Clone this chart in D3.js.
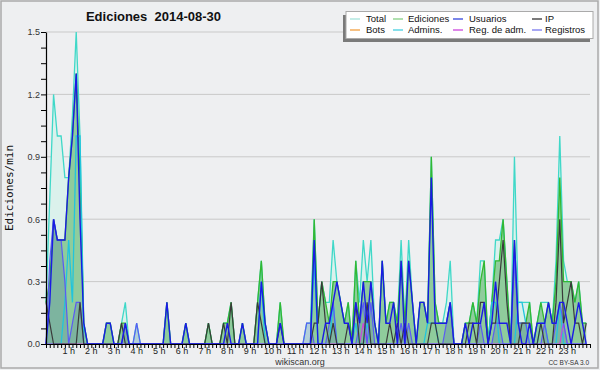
<!DOCTYPE html>
<html><head><meta charset="utf-8">
<script src="https://cdn.jsdelivr.net/npm/d3@7/dist/d3.min.js"></script>
<style>body{margin:0;background:#eeeff1;} svg{display:block;}</style>
</head><body>
<svg id="chart" width="600" height="370"></svg>
<script>
// ---- data: 144 ten-minute slots, edits per minute ----
const hourLabels = ["1 h","2 h","3 h","4 h","5 h","6 h","7 h","8 h","9 h","10 h","11 h","12 h",
  "13 h","14 h","15 h","16 h","17 h","18 h","19 h","20 h","21 h","22 h","23 h"];
const yTickLabels = [0, 0.3, 0.6, 0.9, 1.2, 1.5];

const total = [
 0.2,0.7,1.2,1.0,1.0,0.8,0.8,1.1,1.5,1.0,0.1,0,
 0,0,0,0,0.1,0.1,0,0,0.1,0.2,0,0,
 0.1,0,0,0,0,0,0,0,0.2,0,0,0,
 0,0.1,0,0,0,0,0,0.1,0,0,0,0.1,
 0.1,0.2,0,0,0.1,0,0,0,0.2,0.4,0.1,0,
 0,0,0.2,0,0,0,0,0,0,0.1,0.1,0.6,
 0.1,0.3,0.2,0.2,0.5,0.3,0.2,0.1,0.2,0,0.4,0.2,
 0.5,0.3,0.5,0.1,0,0.4,0.1,0.2,0.2,0.1,0.5,0.1,
 0.5,0.2,0,0.2,0.2,0.1,0.9,0.2,0.1,0.1,0.2,0.4,
 0,0,0,0.1,0.1,0.2,0.1,0.4,0.4,0,0.2,0.5,
 0.5,0.6,0.3,0,0.9,0.2,0.2,0.2,0.2,0,0.1,0.2,
 0.2,0.2,0.1,0.4,1.0,0.4,0.3,0.3,0.2,0.3,0.1,0.1];

const ediciones = [
 0.2,0.3,0.6,0.5,0.5,0.5,0.8,1.0,1.3,0.8,0.1,0,
 0,0,0,0,0.1,0.1,0,0,0.1,0.1,0,0,
 0,0,0,0,0,0,0,0,0.2,0,0,0,
 0,0.1,0,0,0,0,0,0.1,0,0,0,0.1,
 0.1,0.2,0,0,0.1,0,0,0,0.2,0.4,0.1,0,
 0,0,0.2,0,0,0,0,0,0,0,0,0.6,
 0.1,0.3,0.2,0.1,0.3,0.3,0.2,0.1,0.2,0,0.4,0.1,
 0.3,0.3,0.3,0.1,0,0.4,0.1,0.2,0.2,0.1,0.4,0.1,
 0.4,0.2,0,0.2,0.2,0.1,0.9,0.2,0.1,0.1,0.1,0.2,
 0,0,0,0.1,0.1,0.2,0.1,0.3,0.4,0,0.2,0.4,
 0.4,0.6,0.3,0,0.5,0.1,0.1,0.1,0.2,0,0.1,0.2,
 0.1,0.2,0.1,0.3,0.8,0.3,0.3,0.3,0.2,0.3,0.1,0.1];

const usuarios = [
 0,0.2,0.6,0.5,0.5,0.5,0.8,1.0,1.3,0.6,0.1,0,
 0,0,0,0,0.1,0.1,0,0,0,0.1,0,0,
 0,0,0,0,0,0,0,0,0.2,0,0,0,
 0,0.1,0,0,0,0,0,0,0,0,0,0,
 0.1,0,0,0,0.1,0,0,0,0,0.3,0.1,0,
 0,0,0.1,0,0,0,0,0,0,0,0,0.5,
 0,0,0.1,0.1,0.2,0.3,0.2,0.1,0.1,0,0.2,0.1,
 0.3,0.1,0.3,0.1,0,0.4,0.1,0.1,0.2,0,0.4,0,
 0.4,0.2,0,0.2,0.2,0.1,0.8,0.1,0.1,0.1,0.1,0.2,
 0,0,0,0.1,0,0.1,0.1,0.1,0.2,0,0.1,0.3,
 0.1,0.1,0.1,0,0.5,0.1,0,0,0.1,0,0.1,0.1,
 0.1,0.2,0.1,0.1,0.2,0.2,0.1,0,0.1,0.2,0.1,0];

const ip = [
 0.2,0.1,0,0,0,0,0,0,0,0.2,0,0,
 0,0,0,0,0,0,0,0,0.1,0,0,0,
 0,0,0,0,0,0,0,0,0,0,0,0,
 0,0,0,0,0,0,0,0.1,0,0,0,0.1,
 0,0.2,0,0,0,0,0,0,0.2,0.1,0,0,
 0,0,0.1,0,0,0,0,0,0,0,0,0.1,
 0.1,0.3,0.1,0,0.1,0,0,0,0.1,0,0.2,0,
 0,0.2,0,0,0,0,0,0.1,0,0.1,0,0.1,
 0,0,0,0,0,0,0.1,0.1,0,0,0,0,
 0,0,0,0,0.1,0.1,0,0.2,0.2,0,0.1,0.1,
 0.3,0.5,0.2,0,0,0,0.1,0.1,0.1,0,0,0.1,
 0,0,0,0.2,0.6,0.1,0.2,0.3,0.1,0.1,0,0.1];

const registros = [
 0,0.4,0.6,0.5,0.5,0.3,0,0.1,0.2,0.2,0,0,
 0,0,0,0,0,0,0,0,0,0.1,0,0,
 0.1,0,0,0,0,0,0,0,0,0,0,0,
 0,0,0,0,0,0,0,0,0,0,0,0,
 0,0,0,0,0,0,0,0,0,0,0,0,
 0,0,0,0,0,0,0,0,0,0.1,0.1,0,
 0,0,0,0.1,0.2,0,0,0,0,0,0,0.1,
 0.2,0,0.2,0,0,0,0,0,0,0,0.1,0,
 0.1,0,0,0,0,0,0,0,0,0,0.1,0.2,
 0,0,0,0,0,0,0,0.1,0,0,0,0.1,
 0.1,0,0,0,0.4,0.1,0.1,0.1,0,0,0,0,
 0.1,0,0,0.1,0.2,0.1,0,0,0,0,0,0];

const admins = [
 0,0,0,0,0,0.2,0.5,0.2,1.0,1.0,0,0,
 0,0,0,0,0,0,0,0,0,0,0,0,
 0,0,0,0,0,0,0,0,0,0,0,0,
 0,0,0,0,0,0,0,0,0,0,0,0,
 0,0,0,0,0,0,0,0,0,0.3,0,0,
 0,0,0,0,0,0,0,0,0,0,0,0.4,
 0,0,0,0,0.2,0,0,0,0,0,0.1,0,
 0,0.1,0,0,0,0,0,0,0,0,0,0,
 0,0,0,0,0,0.1,0.1,0.1,0,0,0,0,
 0,0,0,0,0,0,0,0,0,0,0.2,0.2,
 0,0,0,0,0,0.2,0.2,0.1,0,0,0,0.1,
 0.1,0,0,0,0.2,0,0,0,0,0,0,0];

const regAdm = [
 0,0,0,0,0,0,0,0,0,0,0,0,
 0,0,0,0,0,0,0,0,0,0,0,0,
 0,0,0,0,0,0,0,0,0,0,0,0,
 0,0,0,0,0,0,0,0,0,0,0,0,
 0,0,0,0,0,0,0,0,0,0,0,0,
 0,0,0,0,0,0,0,0,0,0,0,0,
 0,0,0,0,0,0,0,0,0,0,0,0,
 0.1,0,0,0,0,0,0,0,0,0,0,0,
 0,0,0,0,0,0,0,0,0,0,0,0,
 0,0,0,0,0,0,0,0,0,0,0,0,
 0,0,0,0,0,0,0,0,0,0,0,0,
 0,0,0,0,0,0.1,0,0,0,0,0,0];

const legendNames  = ["Total","Ediciones","Usuarios","IP","Bots","Admins.","Reg. de adm.","Registros"];
const legendColors = ["#a6e3dc","#86cf86","#3344dd","#333333","#f3a040","#44cfe0","#cc44dd","#7777ee"];

// ---- drawing ----
const svg = d3.select("#chart");
svg.append("rect").attr("x",0).attr("y",0).attr("width",600).attr("height",370).attr("fill","#eeeff1");
svg.append("rect").attr("x",1).attr("y",1).attr("width",597).attr("height",367)
   .attr("fill","none").attr("stroke","#aaaaaa").attr("stroke-width",1.5);

const x = d3.scaleLinear().domain([0,144]).range([46,590]);
const y = d3.scaleLinear().domain([0,1.5]).range([344,32]);

// grid
svg.append("g").selectAll("line").data(yTickLabels.slice(1)).join("line")
  .attr("x1",46).attr("x2",590).attr("y1",d=>y(d)).attr("y2",d=>y(d))
  .attr("stroke","#c9c9c9").attr("stroke-width",1);

const area = d3.area().x((d,i)=>x(i)).y0(y(0)).y1(d=>y(d));
const line = d3.line().x((d,i)=>x(i)).y(d=>y(d));

const plot = svg.append("g");
plot.append("path").datum(total).attr("d",area).attr("fill","#dbf1ec");
plot.append("path").datum(ediciones).attr("d",area).attr("fill","rgba(50,160,60,0.45)");
plot.append("path").datum(registros).attr("d",area).attr("fill","rgba(80,120,170,0.28)");

const lines = [
  [total, "#3fd8c8", 1.3],
  [ediciones, "#33b833", 1.3],
  [admins, "#22c4dc", 1.3],
  [regAdm, "#cc44dd", 1.2],
  [registros, "#5a5af5", 1.2],
  [ip, "#3a3a3a", 1.2],
  [usuarios, "#1a1ae6", 1.4]
];
lines.forEach(([data,col,w])=>{
  plot.append("path").datum(data).attr("d",line).attr("fill","none")
    .attr("stroke",col).attr("stroke-width",w).attr("stroke-linejoin","miter");
});

// axes
const fontAx = "'Liberation Sans', Arial, sans-serif";
const xAxis = d3.axisBottom(x).tickValues(d3.range(0,145)).tickSize(4).tickSizeOuter(0).tickFormat("");
const gx = svg.append("g").attr("transform","translate(0,344)").call(xAxis);
gx.selectAll("line").attr("stroke","#000");
gx.select(".domain").attr("stroke","#000").attr("stroke-width",1.2);

svg.append("g").selectAll("text").data(hourLabels).join("text")
  .attr("x",(d,i)=>x((i+1)*6)).attr("y",354)
  .attr("text-anchor","middle").attr("font-family",fontAx).attr("font-size",9).attr("fill","#222")
  .text(d=>d);

const yAxis = d3.axisLeft(y).tickValues(d3.range(21).map(k=>k*0.075)).tickSize(5).tickSizeOuter(0).tickPadding(1)
  .tickFormat((d,i)=> i%4===0 ? d3.format(".1f")(d) : "");
const gy = svg.append("g").attr("transform","translate(46,0)").call(yAxis);
gy.selectAll("line").attr("stroke","#000");
gy.select(".domain").attr("stroke","#000").attr("stroke-width",1.2);
gy.selectAll("text").attr("font-family",fontAx).attr("font-size",9).attr("fill","#333");

// titles
svg.append("text").attr("x",153.5).attr("y",21).attr("text-anchor","middle")
  .attr("font-family",fontAx).attr("font-weight","bold").attr("font-size",13).attr("fill","#111")
  .style("white-space","pre").text("Ediciones  2014-08-30");
svg.append("text").attr("transform","translate(13,188) rotate(-90)").attr("text-anchor","middle")
  .attr("font-family","'DejaVu Sans Mono', monospace").attr("font-size",11).attr("fill","#111")
  .text("Ediciones/min");
svg.append("text").attr("x",300).attr("y",365).attr("text-anchor","middle")
  .attr("font-family",fontAx).attr("font-size",9).attr("fill","#333").text("wikiscan.org");
svg.append("text").attr("x",589).attr("y",365).attr("text-anchor","end")
  .attr("font-family",fontAx).attr("font-size",6.5).attr("fill","#333").text("CC BY-SA 3.0");

// legend
const lg = svg.append("g");
lg.append("rect").attr("x",343).attr("y",15).attr("width",247).attr("height",27).attr("fill","#7a7a7a");
lg.append("rect").attr("x",346).attr("y",11.5).attr("width",247).attr("height",27)
  .attr("fill","#ffffff").attr("stroke","#aaaaaa").attr("stroke-width",1);
const colLine = [350,393,453,532];
const colText = [366,408,469,545];
legendNames.forEach((name,k)=>{
  const col = k%4, row = Math.floor(k/4);
  const yy = 19 + row*11;
  lg.append("line").attr("x1",colLine[col]).attr("x2",colLine[col]+10).attr("y1",yy).attr("y2",yy)
    .attr("stroke",legendColors[k]).attr("stroke-width",1.3);
  lg.append("text").attr("x",colText[col]).attr("y",yy+3.3)
    .attr("font-family",fontAx).attr("font-size",9.5).attr("fill","#111").text(name);
});
</script>
</body></html>
